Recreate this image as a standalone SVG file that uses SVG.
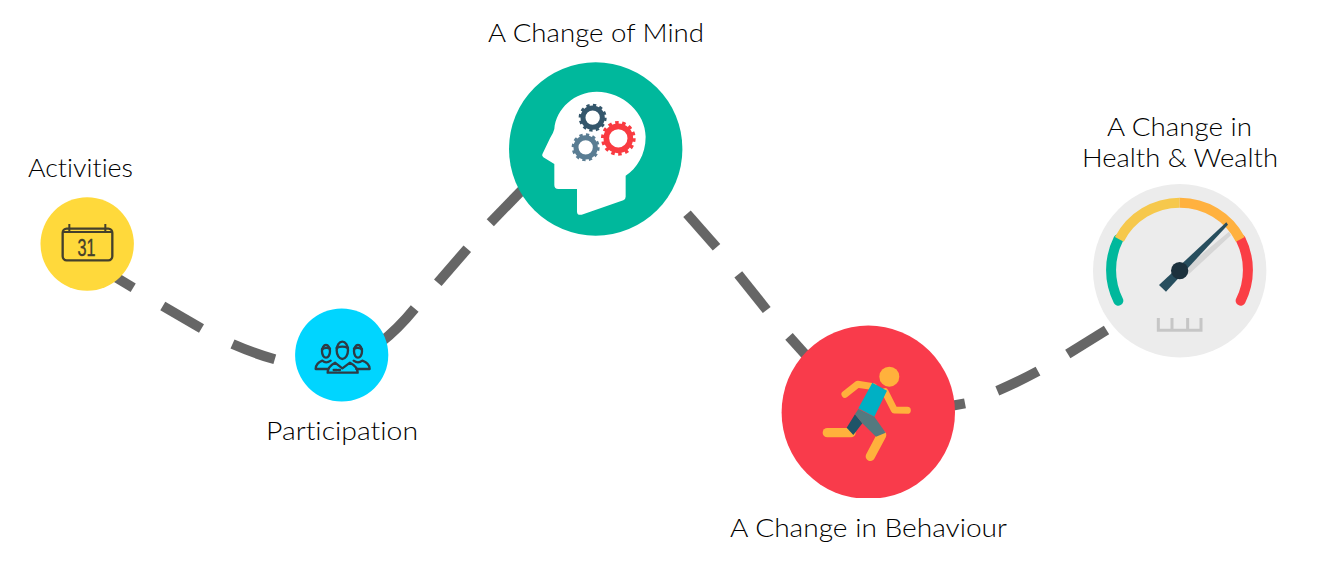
<svg xmlns="http://www.w3.org/2000/svg" width="1324" height="570" viewBox="0 0 1324 570">
<style>
.bg{fill:#fff}
.label{font-family:"Lato","Open Sans","Liberation Sans",sans-serif;font-size:25.5px;font-weight:300;fill:#000;font-variant-ligatures:none}
.dash{fill:none;stroke:#666;stroke-width:10;stroke-linecap:butt}
.line{fill:none;stroke-linecap:round;stroke-linejoin:round}
.ppl{fill:none;stroke:#2d3b45;stroke-width:7;stroke-linejoin:round;stroke-linecap:round}
.gear{fill:none}
.teeth{fill:none;stroke-dasharray:1 1}
</style>
<rect class="bg" width="1324" height="570"/>
<g id="connectors">
<path class="dash" d="M112,275 L133.2,287.7"/>
<path class="dash" d="M162.8,306 L201.5,328.5"/>
<path class="dash" d="M232.5,344 Q253,353 274.8,359.3"/>
<path class="dash" d="M380,343 Q398,329 414.7,308.5"/>
<path class="dash" d="M437.8,282.7 L467.3,248.7"/>
<path class="dash" d="M490.3,222.7 L526,186"/>
<path class="dash" d="M687,213.7 L716.5,247.3"/>
<path class="dash" d="M738.3,274.3 L766.7,310"/>
<path class="dash" d="M789,336.3 L812,362"/>
<path class="dash" d="M945,407 L965,403.3"/>
<path class="dash" d="M997.3,390.8 Q1018,382 1038,371.2"/>
<path class="dash" d="M1067.8,354 L1106.5,330"/>
</g>
<g id="node-activities">
<circle cx="87.2" cy="244" r="46.7" fill="#ffd93b"/>
<g transform="translate(30,190) scale(0.3333)" fill="none" stroke="#44402c">
<rect x="98" y="116" width="149" height="95" rx="12" stroke-width="7"/>
<path d="M98,126 H247" stroke-width="6"/>
<path d="M118,102 V126 M226,102 V126" stroke-width="6"/>
</g>
<text x="86.6" y="256" text-anchor="middle" font-family="'Liberation Sans',sans-serif" font-size="23" fill="#44402c" stroke="#44402c" stroke-width="0.4" textLength="18" lengthAdjust="spacingAndGlyphs">31</text>
<text class="label" x="80.5" y="177" text-anchor="middle" textLength="105" lengthAdjust="spacingAndGlyphs">Activities</text>
</g>
<g id="node-participation">
<circle cx="341.7" cy="355" r="46.6" fill="#00d5ff"/>
<g transform="translate(285,300) scale(0.3333)" class="ppl">
<ellipse cx="123" cy="154" rx="12" ry="19"/>
<path d="M111,148 Q123,140 135,146"/>
<ellipse cx="219" cy="154" rx="12" ry="19"/>
<path d="M207,146 Q219,140 231,148"/>
<path d="M128,207 H92 Q92,190 112,182 Q123,192 137,182"/>
<path d="M214,207 H254 Q254,190 232,182 Q219,192 206,182"/>
<ellipse cx="172" cy="151" rx="17" ry="26"/>
<path d="M155,144 Q172,136 189,144"/>
<path d="M128,218 Q128,200 150,188 L172,205 L195,188 Q218,200 218,218 Z"/>
<path d="M146,210 H156 M161,210 H165"/>
</g>
<text class="label" x="342" y="440" text-anchor="middle" textLength="152" lengthAdjust="spacingAndGlyphs">Participation</text>
</g>
<g id="node-mind">
<circle cx="595.7" cy="149" r="86.7" fill="#00b89c"/>
<g transform="translate(500,55) scale(0.3333)">
<path fill="#fff" d="M127,298 L150,250 Q160,235 163,222 C168,160 225,110 290,110 C370,110 437,175 437,245 C437,300 410,340 377,362 L377,425 Q377,433 370,436 L245,479 Q232,482 231,470 L231,402 L175,402 Q163,402 163,390 L163,327 L130,307 Q125,303 127,298 Z"/>
<circle class="gear" cx="278" cy="188" r="29" stroke="#34566b" stroke-width="15"/>
<circle class="teeth" cx="278" cy="188" r="38" stroke="#34566b" stroke-width="8" pathLength="24"/>
<circle class="gear" cx="257" cy="277" r="29" stroke="#5a7d93" stroke-width="15"/>
<circle class="teeth" cx="257" cy="277" r="38" stroke="#5a7d93" stroke-width="8" pathLength="24"/>
<circle class="gear" cx="355" cy="250" r="36" stroke="#f93b41" stroke-width="17"/>
<circle class="teeth" cx="355" cy="250" r="47" stroke="#f93b41" stroke-width="10" pathLength="28"/>
</g>
<text class="label" x="596" y="42" text-anchor="middle" textLength="216" lengthAdjust="spacingAndGlyphs">A Change of Mind</text>
</g>
<g id="node-behaviour">
<circle cx="868.3" cy="412.3" r="86.7" fill="#f93b4b"/>
<rect x="775" y="498" width="190" height="4" fill="#fff"/>
<g transform="translate(775,320) scale(0.3333)">
<circle cx="343" cy="170" r="30" fill="#ffb13c"/>
<path class="line" stroke="#ffb13c" stroke-width="21" d="M210,223 L248,193 L295,200"/>
<path class="line" stroke="#ffb13c" stroke-width="21" d="M330,215 L358,270 L397,271"/>
<path class="line" stroke="#ffb13c" stroke-width="28" d="M157,338 H228"/>
<path class="line" stroke="#ffb13c" stroke-width="28" d="M320,345 L286,409"/>
<polygon fill="#00b0c4" points="292,188 336,212 298,290 250,265"/>
<polygon fill="#1e5468" points="240,283 262,310 235,345 215,323"/>
<polygon fill="#54797f" points="250,267 298,290 332,338 303,350 262,310 240,283"/>
</g>
<text class="label" x="868.5" y="536.5" text-anchor="middle" textLength="277" lengthAdjust="spacingAndGlyphs">A Change in Behaviour</text>
</g>
<g id="node-health">
<circle cx="1179.7" cy="270.7" r="86.7" fill="#ececec"/>
<g transform="translate(1085,180) scale(0.3333)">
<path class="line" stroke="#00b89c" stroke-width="30" d="M100,362 A205,205 0 0 1 100,178"/>
<path class="line" stroke="#fa3e45" stroke-width="30" d="M467,362 A205,205 0 0 0 467,178"/>
<path fill="none" stroke="#f6c84c" stroke-width="30" d="M103,178 A204,204 0 0 1 284,68"/>
<path fill="none" stroke="#ffb13f" stroke-width="30" d="M284,68 A204,204 0 0 1 466,178"/>
<polygon fill="#d6d6d6" points="296,268 432,155 438,166 312,282"/>
<polygon fill="#274e5e" points="222,315 424,127 429,134 243,335"/>
<circle cx="284" cy="272" r="26" fill="#1c313d"/>
<path fill="none" stroke="#c6c6c6" stroke-width="9" d="M220,414 V451 H348 V414 M261,414 V451 M308,414 V451"/>
</g>
<text class="label" x="1179.5" y="135.7" text-anchor="middle" textLength="145" lengthAdjust="spacingAndGlyphs">A Change in</text>
<text class="label" x="1180" y="166.7" text-anchor="middle" textLength="196" lengthAdjust="spacingAndGlyphs">Health &amp; Wealth</text>
</g>
</svg>
